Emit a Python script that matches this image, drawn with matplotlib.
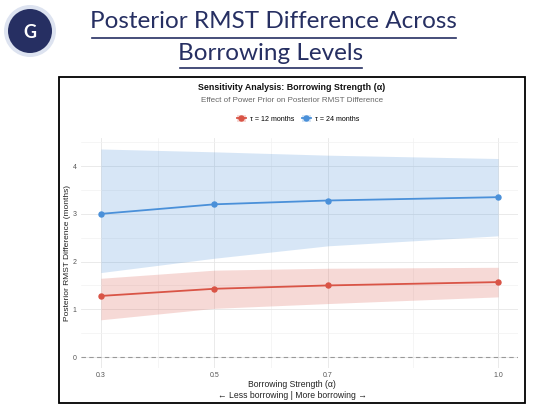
import numpy as np
import matplotlib
matplotlib.use("Agg")
import matplotlib.pyplot as plt
from matplotlib.patches import Ellipse, Rectangle, Patch
from matplotlib.lines import Line2D

# data
alpha = [0.3, 0.5, 0.7, 1.0]
rmst_12 = [1.28, 1.43, 1.50, 1.57]
lo_12 = [0.78, 1.02, 1.12, 1.26]
hi_12 = [1.65, 1.82, 1.86, 1.88]
rmst_24 = [3.00, 3.20, 3.28, 3.35]
lo_24 = [1.77, 2.07, 2.33, 2.54]
hi_24 = [4.36, 4.30, 4.23, 4.16]
labels = ["τ = 12 months", "τ = 24 months"]

red = "#D95446"
blue = "#4A90D9"
navy = "#262F62"

plt.rcParams['font.family'] = ['Liberation Sans', 'DejaVu Sans']

W, H = 533, 415
fig = plt.figure(figsize=(W / 100, H / 100), dpi=100)

def fx(px):
    return px / W

def fy(py):
    return 1 - py / H

# header badge
fig.patches.append(Ellipse((fx(30), fy(31)), 52 / W, 52 / H, transform=fig.transFigure,
                           facecolor="#DDE3F0", edgecolor="none"))
fig.patches.append(Ellipse((fx(30), fy(31)), 44 / W, 44 / H, transform=fig.transFigure,
                           facecolor=navy, edgecolor="none"))
fig.text(fx(30), fy(32), "G", color="white", fontsize=13, fontweight="bold",
         ha="center", va="center", family=["Lato", "DejaVu Sans"])

# header title with underlines
fig.text(fx(273), fy(22), "Posterior RMST Difference Across", color=navy,
         fontsize=17.5, ha="center", va="center", family=["Lato", "DejaVu Sans"])
fig.text(fx(271), fy(53), "Borrowing Levels", color=navy,
         fontsize=17.5, ha="center", va="center", family=["Lato", "DejaVu Sans"])
fig.add_artist(Line2D([fx(92), fx(456)], [fy(38), fy(38)], color=navy, lw=1.2))
fig.add_artist(Line2D([fx(180), fx(362)], [fy(68), fy(68)], color=navy, lw=1.2))

# chart frame
fig.add_artist(Rectangle((fx(59), fy(403)), (525 - 59) / W, (403 - 77) / H,
                         transform=fig.transFigure, facecolor="none",
                         edgecolor="black", lw=1.3, zorder=5))

fig.text(fx(292), fy(87), "Sensitivity Analysis: Borrowing Strength (α)",
         fontsize=6.4, fontweight="bold", ha="center", va="center", color="#111111")
fig.text(fx(292), fy(101), "Effect of Power Prior on Posterior RMST Difference",
         fontsize=5.8, ha="center", va="center", color="#666666")

ax = fig.add_axes([fx(81), fy(367.5), (518 - 81) / W, (367.5 - 138) / H])
ax.set_facecolor("white")

ax.fill_between(alpha, lo_24, hi_24, color=blue, alpha=0.22, lw=0)
ax.fill_between(alpha, lo_12, hi_12, color=red, alpha=0.22, lw=0)
ax.plot(alpha, rmst_24, color=blue, lw=1.3, marker="o", ms=3.6)
ax.plot(alpha, rmst_12, color=red, lw=1.3, marker="o", ms=3.6)
ax.axhline(0, color="#999999", lw=0.8, ls=(0, (4, 3)))

ax.set_xlim(0.265, 1.035)
ax.set_ylim(-0.22, 4.59)
ax.set_xticks(alpha)
ax.set_xticklabels(["0.3", "0.5", "0.7", "1.0"])
ax.set_xticks([0.4, 0.6, 0.85], minor=True)
ax.set_yticks([0, 1, 2, 3, 4])
ax.set_yticks([0.5, 1.5, 2.5, 3.5, 4.5], minor=True)
ax.grid(which="major", color="#E6E6E6", lw=0.6)
ax.grid(which="minor", color="#F2F2F2", lw=0.5)
ax.set_axisbelow(True)
ax.tick_params(which="both", length=0, labelsize=5, labelcolor="#555555", pad=3)
for s in ax.spines.values():
    s.set_visible(False)

ax.set_ylabel("Posterior RMST Difference (months)", fontsize=6, color="#222222")
ax.yaxis.set_label_coords(-0.024, 0.5)
fig.text(fx(292), fy(384.5), "Borrowing Strength (α)", fontsize=6.2, ha="center",
         va="center", color="#222222")
fig.text(fx(292), fy(395), "← Less borrowing | More borrowing →", fontsize=6.2,
         ha="center", va="center", color="#222222")

handles = [(Patch(facecolor=red, alpha=0.22), Line2D([], [], color=red, marker="o", ms=3.6, lw=1.3)),
           (Patch(facecolor=blue, alpha=0.22), Line2D([], [], color=blue, marker="o", ms=3.6, lw=1.3))]
fig.legend(handles, labels, loc="center", bbox_to_anchor=(fx(298), fy(119)), ncol=2,
           frameon=False, fontsize=5.1, handlelength=1.3, handleheight=1.0,
           columnspacing=1.0, handletextpad=0.6)

fig.savefig("out.png", dpi=100)
